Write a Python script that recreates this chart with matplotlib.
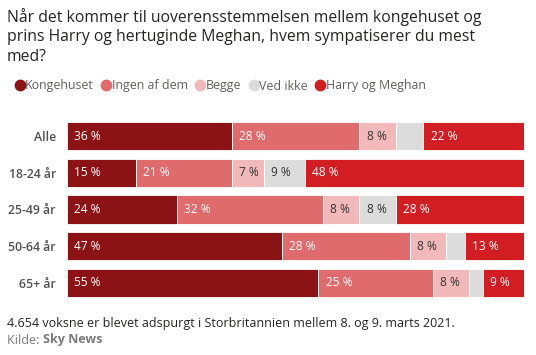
import matplotlib
matplotlib.use("Agg")
import matplotlib.pyplot as plt
from matplotlib.lines import Line2D

categories = ["Alle", "18-24 år", "25-49 år", "50-64 år", "65+ år"]
series_names = ["Kongehuset", "Ingen af dem", "Begge", "Ved ikke", "Harry og Meghan"]
kongehuset = [36, 15, 24, 47, 55]
ingen = [28, 21, 32, 28, 25]
begge = [8, 7, 8, 8, 8]
ved_ikke = [6, 9, 8, 4, 3]
harry_meghan = [22, 48, 28, 13, 9]

colors = ["#8B1316", "#E06B6D", "#F2B9BA", "#DCDCDC", "#D21E23"]
text_colors = ["white", "white", "#333333", "#333333", "white"]

plt.rcParams['font.family'] = ['Open Sans', 'DejaVu Sans']

fig = plt.figure(figsize=(5.36, 3.55), dpi=100)
W, H = 536, 355
ax = fig.add_axes([67 / W, 1 - 301 / H, (524 - 67) / W, 183 / H])

series = [kongehuset, ingen, begge, ved_ikke, harry_meghan]
y = list(range(len(categories)))
left = [0] * len(categories)
for vals, col, tcol in zip(series, colors, text_colors):
    ax.barh(y, vals, left=left, color=col, height=0.77, edgecolor="white", linewidth=0.6)
    for i, v in enumerate(vals):
        if v >= 7:
            ax.text(left[i] + 1.6, i, f"{v} %", va="center", ha="left",
                    color=tcol, fontsize=8.6)
    left = [l + v for l, v in zip(left, vals)]

ax.set_xlim(0, 100)
ax.set_ylim(4.5, -0.5)
ax.set_yticks(y)
ax.set_yticklabels(categories, fontsize=8.8, color="#505050", fontweight="semibold")
ax.tick_params(axis="y", length=0, pad=8)
ax.set_xticks([])
for s in ax.spines.values():
    s.set_visible(False)

title = ("Når det kommer til uoverensstemmelsen mellem kongehuset og\n"
         "prins Harry og hertuginde Meghan, hvem sympatiserer du mest\n"
         "med?")
fig.text(7 / W, 1 - 8 / H, title, ha="left", va="top", fontsize=11.3,
         color="#252423", linespacing=1.28)

# legend
handles = [Line2D([0], [0], marker="o", color="none", markerfacecolor=c,
                  markeredgecolor=c, markersize=7.5) for c in colors]
leg = fig.legend(handles, series_names, loc="center left",
                 bbox_to_anchor=(1 / W, 1 - 86 / H), ncol=5, frameon=False,
                 handletextpad=-0.15, columnspacing=0.4, handlelength=1.2,
                 fontsize=8.9, labelcolor="#605E5C")

fig.text(7 / W, 1 - 323 / H, "4.654 voksne er blevet adspurgt i Storbritannien mellem 8. og 9. marts 2021.",
         ha="left", va="center", fontsize=9.0, color="#252423")
t1 = fig.text(7 / W, 1 - 340 / H, "Kilde: ", ha="left", va="center", fontsize=9.0, color="#7A7A7A")
fig.canvas.draw()
bb = t1.get_window_extent()
fig.text(bb.x1 / W, 1 - 340 / H, "Sky News", ha="left", va="center", fontsize=9.0,
         color="#7A7A7A", fontweight="bold")

fig.savefig("out.png", dpi=100)
